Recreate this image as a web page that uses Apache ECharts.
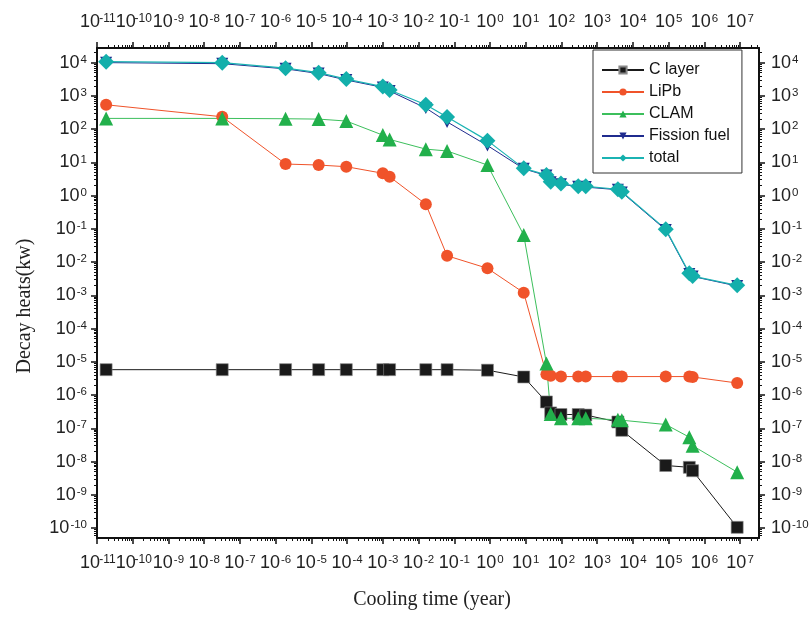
<!DOCTYPE html>
<html>
<head>
<meta charset="utf-8">
<script src="https://cdn.jsdelivr.net/npm/echarts@6/dist/echarts.min.js"></script>
<style>
  html, body { margin: 0; padding: 0; background: #fff; }
  #chart { width: 809px; height: 617px; }
</style>
</head>
<body>
<div id="chart"></div>
<script>
// cooling time (year)
const coolingTime = [1.8e-11, 3.2e-8, 1.9e-6, 1.6e-5, 9.5e-5, 1.0e-3, 1.55e-3, 0.016, 0.063, 0.85,
  8.8, 38, 50, 97, 295, 480, 3800, 4900, 8.3e4, 3.8e5, 4.7e5, 8.3e6]

// decay heats (kw)
const cLayer = [5.8e-6, 5.8e-6, 5.8e-6, 5.8e-6, 5.8e-6, 5.8e-6, 5.8e-6, 5.8e-6, 5.8e-6, 5.6e-6,
  3.5e-6, 6.2e-7, 2.9e-7, 2.6e-7, 2.6e-7, 2.5e-7, 1.55e-7, 8.7e-8, 7.6e-9, 6.7e-9, 5.3e-9, 1.05e-10]
const liPb = [540, 235, 8.9, 8.3, 7.4, 4.7, 3.7, 0.55, 0.0155, 0.0065,
  0.0012, 4.2e-6, 3.8e-6, 3.6e-6, 3.6e-6, 3.6e-6, 3.6e-6, 3.6e-6, 3.6e-6, 3.6e-6, 3.5e-6, 2.3e-6]
const clam = [210, 210, 205, 200, 175, 66, 49, 25, 22, 8.3,
  0.065, 8.9e-6, 2.7e-7, 2.0e-7, 2.0e-7, 2.0e-7, 1.8e-7, 1.75e-7, 1.3e-7, 5.4e-8, 3.0e-8, 4.8e-9]
const fissionFuel = [1.0e4, 9.3e3, 6.5e3, 4.7e3, 3.0e3, 1.8e3, 1.4e3, 430, 165, 32,
  6.4, 4.0, 2.5, 2.2, 1.85, 1.8, 1.5, 1.25, 0.093, 0.0044, 0.0037, 0.0019]
const total = [1.07e4, 1.0e4, 6.8e3, 5.0e3, 3.2e3, 1.9e3, 1.5e3, 540, 230, 45,
  6.6, 4.2, 2.6, 2.3, 1.9, 1.9, 1.55, 1.3, 0.098, 0.0046, 0.0038, 0.002]

// tick label exponents
const xExponents = [-11, -10, -9, -8, -7, -6, -5, -4, -3, -2, -1, 0, 1, 2, 3, 4, 5, 6, 7]
const yExponents = [-10, -9, -8, -7, -6, -5, -4, -3, -2, -1, 0, 1, 2, 3, 4]

const X_MIN = 1e-11, X_MAX = Math.pow(10, 7.53)
const Y_MIN = Math.pow(10, -10.3), Y_MAX = Math.pow(10, 4.44)

const SANS = 'Liberation Sans, Arial, sans-serif'
const SERIF = 'Liberation Serif, Times New Roman, serif'

function majors(exps) {
  return exps.map(e => Number('1e' + e))
}
function minors(lo, hi) {
  const out = []
  for (let e = Math.floor(Math.log10(lo)); e <= Math.ceil(Math.log10(hi)); e++) {
    for (let d = 2; d <= 9; d++) {
      const v = Number(d + 'e' + e)
      if (v > lo && v < hi) out.push(v)
    }
  }
  return out
}

const rich = {
  b: { fontSize: 18, fontFamily: SANS, color: '#222' },
  e: { fontSize: 11.5, fontFamily: SANS, color: '#222', verticalAlign: 'top', padding: [0, 0, 0, 1] },
  // long exponents on the crowded x axes get a narrower box so neighbours are not culled
  w: { fontSize: 12, fontFamily: SANS, color: '#222', verticalAlign: 'top', width: 13, padding: [0, 0, 0, 1] }
}
function expLabel(v) {
  const e = String(Math.round(Math.log10(v)))
  return '{b|10}{e|' + e + '}'
}
function expLabelX(v) {
  const e = String(Math.round(Math.log10(v)))
  return '{b|10}{' + (e.length > 2 ? 'w' : 'e') + '|' + e + '}'
}

function axis(kind, pos, major, extra) {
  const isX = kind === 'x'
  const base = {
    type: 'log',
    logBase: 10,
    position: pos,
    min: isX ? X_MIN : Y_MIN,
    max: isX ? X_MAX : Y_MAX,
    splitLine: { show: false },
    axisLine: { show: major, onZero: false, lineStyle: { color: '#111', width: 2 } },
    axisTick: {
      show: true,
      customValues: major ? majors(isX ? xExponents : yExponents) : (isX ? minors(X_MIN, X_MAX) : minors(Y_MIN, Y_MAX)),
      length: major ? 6 : 3,
      lineStyle: { color: '#111', width: major ? 1.5 : 1 }
    },
    axisLabel: major ? {
      customValues: majors(isX ? xExponents : yExponents),
      formatter: isX ? expLabelX : expLabel,
      rich: rich,
      showMinLabel: true,
      showMaxLabel: true,
      hideOverlap: false,
      margin: 10
    } : { show: false }
  }
  return Object.assign(base, extra || {})
}

const xAxes = [
  axis('x', 'bottom', true, {
    name: 'Cooling time (year)',
    nameLocation: 'middle',
    nameGap: 52,
    nameTextStyle: { fontFamily: SERIF, fontSize: 20, color: '#222', padding: [0, 0, 0, 8] }
  }),
  axis('x', 'bottom', false),
  axis('x', 'top', true),
  axis('x', 'top', false)
]
xAxes[0].axisLabel.margin = 16
xAxes[2].axisLabel.margin = 17

const yAxes = [
  axis('y', 'left', true, {
    name: 'Decay heats(kw)',
    nameLocation: 'middle',
    nameGap: 62,
    nameTextStyle: { fontFamily: SERIF, fontSize: 20, color: '#222', padding: [0, 26, 0, 0] }
  }),
  axis('y', 'left', false),
  axis('y', 'right', true),
  axis('y', 'right', false)
]
yAxes[2].axisLabel.margin = 12

function pairs(ys) {
  return coolingTime.map((t, i) => [t, ys[i]])
}

function lineSeries(name, ys, color, symbol, size, extra) {
  return Object.assign({
    name: name,
    type: 'line',
    data: pairs(ys),
    symbol: symbol,
    symbolSize: size,
    color: color,
    lineStyle: { color: color, width: 1 },
    itemStyle: { color: color },
    emphasis: { disabled: true }
  }, extra || {})
}

const chart = echarts.init(document.getElementById('chart'))
chart.setOption({
  animation: false,
  backgroundColor: '#fff',
  grid: { left: 97, right: 50, top: 48, bottom: 79, containLabel: false, outerBoundsMode: 'none' },
  legend: {
    orient: 'vertical',
    left: 593,
    top: 50,
    backgroundColor: '#fff',
    borderColor: '#333',
    borderWidth: 1,
    padding: [12, 12, 7, 8],
    itemGap: 6,
    itemWidth: 42,
    itemHeight: 9,
    textStyle: { fontFamily: SANS, fontSize: 16, color: '#111' },
    data: ['C layer', 'LiPb', 'CLAM', 'Fission fuel', 'total']
  },
  xAxis: xAxes,
  yAxis: yAxes,
  series: [
    lineSeries('C layer', cLayer, '#1a1a1a', 'rect', 12, { itemStyle: { color: '#1a1a1a', borderColor: '#888', borderWidth: 0.6 } }),
    lineSeries('LiPb', liPb, '#f0532a', 'circle', 12),
    lineSeries('CLAM', clam, '#22b04b', 'triangle', 14, { lineStyle: { color: '#3cbf5c', width: 1 } }),
    lineSeries('Fission fuel', fissionFuel, '#1f2b8e', 'triangle', 12, { symbolRotate: 180 }),
    lineSeries('total', total, '#13afab', 'diamond', 16, { lineStyle: { color: '#1bb3b3', width: 1.2 } })
  ]
})
</script>
</body>
</html>
